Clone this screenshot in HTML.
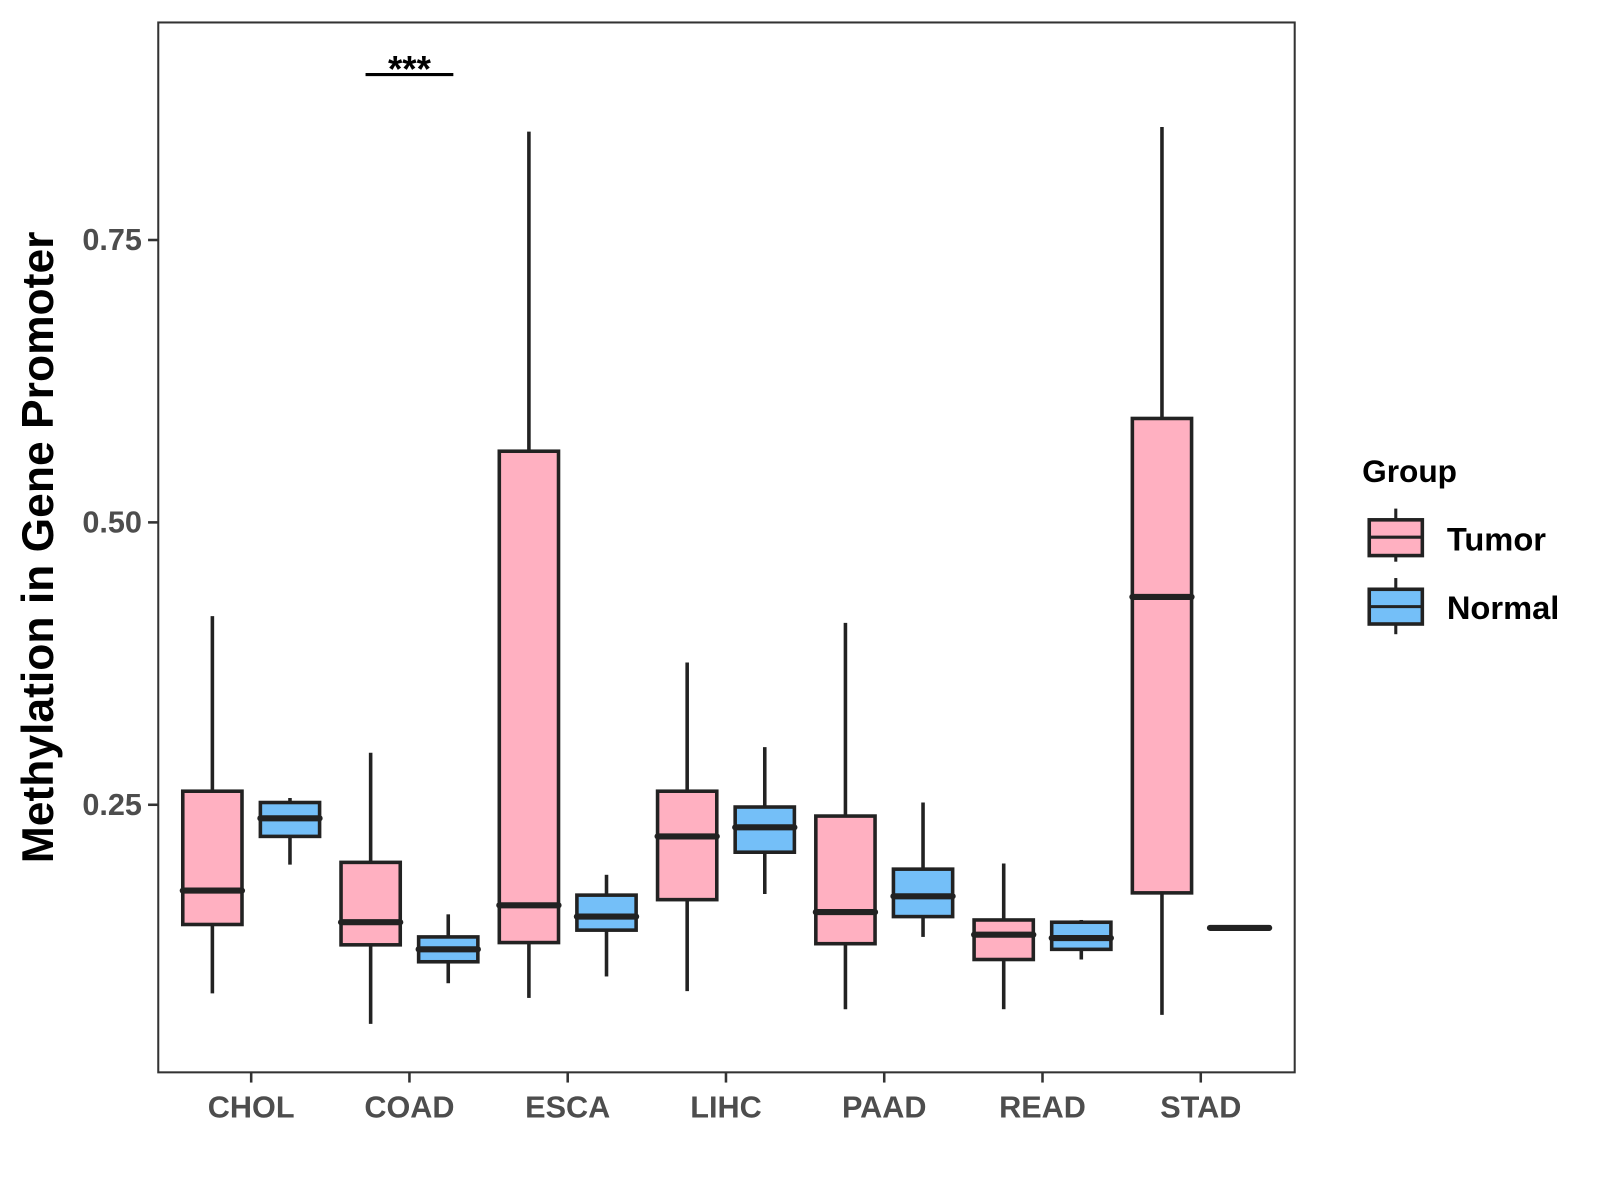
<!DOCTYPE html>
<html><head><meta charset="utf-8"><style>
html,body{margin:0;padding:0;background:#fff;}
svg{display:block;}
text{font-family:"Liberation Sans",Arial,sans-serif;font-weight:bold;}
</style></head><body>
<svg id="chart" width="1600" height="1200" viewBox="0 0 1567 1175" preserveAspectRatio="none" xmlns="http://www.w3.org/2000/svg">
<rect x="0" y="0" width="1567" height="1175" fill="#fff"/>
<g id="marks"></g>
<rect x="155" y="22" width="1113" height="1028" fill="none" stroke="#333" stroke-width="2"/>
<g id="axes"></g>
<text transform="translate(52,536) rotate(-90)" text-anchor="middle" font-size="43.5" fill="#000">Methylation in Gene Promoter</text>
<line x1="358" y1="73" x2="444" y2="73" stroke="#000" stroke-width="3"/>
<text x="401" y="80" text-anchor="middle" font-size="36" fill="#000">***</text>
<g>
<text x="1334" y="472" font-size="31" fill="#000">Group</text>
<g>
<line x1="1367" y1="498" x2="1367" y2="550" stroke="#222" stroke-width="3"/>
<rect x="1341" y="509" width="52" height="35" fill="#FFB0C1" stroke="#222" stroke-width="3.5"/>
<line x1="1341" y1="526" x2="1393" y2="526" stroke="#222" stroke-width="3"/>
<text x="1417" y="539" font-size="32" fill="#000">Tumor</text>
</g>
<g>
<line x1="1367" y1="566" x2="1367" y2="621" stroke="#222" stroke-width="3"/>
<rect x="1341" y="577" width="52" height="34" fill="#74BFF8" stroke="#222" stroke-width="3.5"/>
<line x1="1341" y1="594" x2="1393" y2="594" stroke="#222" stroke-width="3"/>
<text x="1417" y="606" font-size="32" fill="#000">Normal</text>
</g>
</g>
</svg>
<script>
const categories = ["CHOL","COAD","ESCA","LIHC","PAAD","READ","STAD"];
// [whisker low, Q1, median, Q3, whisker high]
const tumorStats = [
  [0.083,0.144,0.174,0.262,0.417],
  [0.056,0.126,0.146,0.199,0.296],
  [0.079,0.128,0.161,0.563,0.846],
  [0.085,0.166,0.222,0.262,0.376],
  [0.069,0.127,0.155,0.240,0.411],
  [0.069,0.113,0.135,0.148,0.198],
  [0.064,0.172,0.434,0.592,0.850]
];
const normalStats = [
  [0.197,0.222,0.238,0.252,0.256],
  [0.092,0.111,0.122,0.133,0.153],
  [0.098,0.139,0.151,0.170,0.188],
  [0.171,0.208,0.230,0.248,0.301],
  [0.133,0.151,0.169,0.193,0.252],
  [0.113,0.122,0.132,0.146,0.148],
  [0.141,0.141,0.141,0.141,0.141]
];
const yTicks = [0.25,0.50,0.75];
const yTickLabels = ["0.25","0.50","0.75"];

const NS="http://www.w3.org/2000/svg";
function y(v){return 788-(v-0.25)*1106;}
function x(i){return 246+i*155;}
function mk(tag,attrs,parent){const e=document.createElementNS(NS,tag);for(const k in attrs)e.setAttribute(k,attrs[k]);parent.appendChild(e);return e;}
const marks=document.getElementById('marks');
const axes=document.getElementById('axes');
function drawBox(cx,s,fill,name){
  const g=mk('g',{},marks);
  
  
  const hw=29;
  mk('line',{x1:cx,x2:cx,y1:y(s[4]),y2:y(s[3]),stroke:'#222','stroke-width':3.5},g);
  mk('line',{x1:cx,x2:cx,y1:y(s[1]),y2:y(s[0]),stroke:'#222','stroke-width':3.5},g);
  mk('rect',{x:cx-hw,y:y(s[3]),width:2*hw,height:Math.max(0,y(s[1])-y(s[3])),fill:fill,stroke:'#222','stroke-width':3.5},g);
  mk('line',{x1:cx-hw,x2:cx+hw,y1:y(s[2]),y2:y(s[2]),stroke:'#222','stroke-width':6,'stroke-linecap':'round'},g);
}
categories.forEach((c,i)=>{
  drawBox(x(i)-38,tumorStats[i],'#FFB0C1','box-tumor-'+c.toLowerCase());
  drawBox(x(i)+38,normalStats[i],'#74BFF8','box-normal-'+c.toLowerCase());
  const t=mk('line',{x1:x(i),x2:x(i),y1:1050,y2:1060,stroke:'#333','stroke-width':2.5},axes);
  
  
  const l=mk('text',{x:x(i),y:1094,'text-anchor':'middle','font-size':30,fill:'#4d4d4d'},axes);
  
  
  l.textContent=c;
});
yTicks.forEach((v,i)=>{
  const t=mk('line',{x1:145,x2:155,y1:y(v),y2:y(v),stroke:'#333','stroke-width':2.5},axes);
  
  
  const l=mk('text',{x:139,y:y(v)+10,'text-anchor':'end','font-size':30,fill:'#4d4d4d'},axes);
  
  
  l.textContent=yTickLabels[i];
});
</script>
</body></html>
